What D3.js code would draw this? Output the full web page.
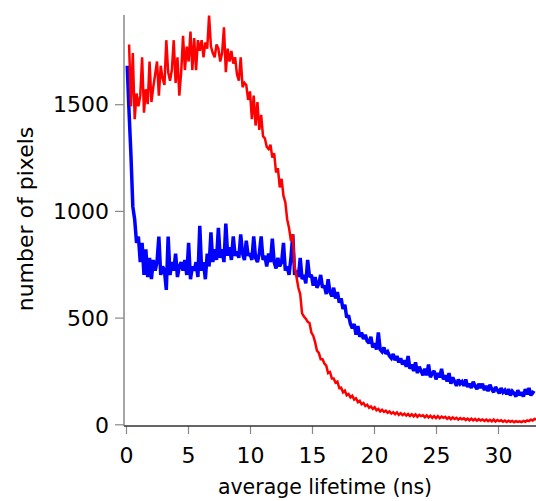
<!DOCTYPE html>
<html>
<head>
<meta charset="utf-8">
<script src="https://cdn.jsdelivr.net/npm/d3@7"></script>
<style>
  html, body { margin: 0; padding: 0; background: #fff; }
  svg { display: block; }
  text { font-family: "DejaVu Sans", sans-serif; }
</style>
</head>
<body>
<svg id="chart" width="536" height="501"></svg>
<script>
// ---- data ----
const binWidth = 0.15;           // ns per histogram bin
const redStart = 0.25;           // lifetime of first red bin (ns)
const blueStart = 0.10;          // lifetime of first blue bin (ns)

const redCounts = [
  1780, 1490, 1740, 1430, 1550, 1490, 1540, 1720, 1460, 1570,
  1500, 1700, 1510, 1580, 1640, 1700, 1540, 1680, 1620, 1590,
  1800, 1650, 1610, 1660, 1800, 1600, 1720, 1540, 1650, 1820,
  1660, 1770, 1700, 1840, 1660, 1810, 1660, 1800, 1750, 1800,
  1720, 1790, 1760, 1915, 1770, 1740, 1720, 1780, 1760, 1700,
  1740, 1860, 1650, 1760, 1700, 1750, 1690, 1720, 1640, 1610,
  1720, 1580, 1600, 1590, 1520, 1560, 1430, 1540, 1400, 1510,
  1380, 1450, 1350, 1340, 1300, 1290, 1310, 1250, 1270, 1180,
  1200, 1110, 1150, 1070, 1040, 960, 920, 860, 890, 740,
  690, 640, 610, 520, 505, 495, 480, 475, 430, 415,
  385, 345, 335, 305, 305, 285, 275, 240, 245, 215,
  215, 195, 200, 170, 172, 150, 158, 136, 142, 126,
  134, 116, 122, 104, 110, 94, 100, 86, 92, 78,
  84, 72, 80, 66, 72, 60, 68, 58, 64, 54,
  60, 50, 57, 47, 56, 44, 52, 43, 50, 41,
  48, 39, 47, 37, 46, 35, 44, 38, 42, 33,
  42, 32, 40, 30, 39, 29, 38, 28, 36, 30,
  35, 26, 33, 24, 32, 25, 30, 22, 29, 23,
  28, 20, 27, 19, 26, 18, 25, 17, 24, 18,
  23, 16, 22, 15, 21, 14, 22, 13, 20, 15,
  19, 12, 18, 11, 17, 12, 16, 10, 15, 11,
  14, 10, 16, 12, 18, 15, 22, 18, 25, 23
];

const blueCounts = [
  1680, 1460, 1260, 1020, 960, 850, 880, 760, 850, 700,
  820, 690, 780, 680, 770, 720, 760, 880, 700, 740,
  720, 630, 880, 700, 760, 720, 800, 690, 740, 760,
  720, 770, 700, 850, 680, 740, 720, 760, 690, 930,
  720, 760, 680, 800, 740, 900, 760, 820, 770, 920,
  780, 820, 760, 940, 790, 830, 770, 880, 790, 810,
  780, 890, 800, 770, 860, 790, 800, 770, 880, 780,
  760, 800, 880, 770, 790, 740, 800, 760, 870, 760,
  730, 780, 740, 760, 850, 720, 740, 700, 780, 890,
  700, 720, 690, 780, 680, 700, 660, 770, 690, 700,
  650, 690, 640, 660, 700, 640, 650, 610, 680, 620,
  600, 640, 590, 620, 570, 590, 540, 560, 500, 510,
  470, 450, 470, 420, 460, 410, 430, 400, 420, 390,
  380, 410, 360, 380, 350, 430, 350, 340, 360, 330,
  340, 320, 310, 330, 300, 320, 290, 310, 280, 300,
  270, 320, 260, 280, 250, 290, 240, 270, 250, 230,
  260, 230, 280, 220, 240, 250, 210, 240, 220, 260,
  210, 230, 200, 240, 190, 220, 200, 180, 210, 190,
  200, 180, 210, 175, 190, 170, 200, 180, 165, 190,
  170, 190, 160, 180, 155, 185, 165, 150, 175, 160,
  145, 170, 150, 160, 140, 165, 135, 155, 145, 130,
  160, 135, 150, 130, 165, 140, 170, 135, 150, 145
];

const xTicks = [0, 5, 10, 15, 20, 25, 30];
const yTicks = [0, 500, 1000, 1500];
const xTitle = "average lifetime (ns)";
const yTitle = "number of pixels";

// ---- layout ----
const svg = d3.select("#chart");
const axisX = 124, axisY = 426;
const x = d3.scaleLinear().domain([0, 33]).range([126, 535.2]);
const y = d3.scaleLinear().domain([0, 1918]).range([424.3, 15]);

svg.append("defs").append("clipPath").attr("id", "plotclip")
  .append("rect").attr("x", axisX + 1).attr("y", 0).attr("width", 536 - axisX).attr("height", axisY);

const toPts = (arr, start) => arr.map((v, i) => [start + i * binWidth, v]);
const line = d3.line().x(d => x(d[0])).y(d => y(d[1]));

const plot = svg.append("g").attr("clip-path", "url(#plotclip)");
plot.append("path").datum(toPts(blueCounts, blueStart))
  .attr("d", line).attr("fill", "none").attr("stroke", "#0000ff")
  .attr("stroke-width", 3.5).attr("stroke-linejoin", "miter").attr("stroke-miterlimit", 2);
plot.append("path").datum(toPts(redCounts, redStart))
  .attr("d", line).attr("fill", "none").attr("stroke", "#ff0000")
  .attr("stroke-width", 2.5).attr("stroke-linejoin", "miter").attr("stroke-miterlimit", 2);

// axes
const gx = svg.append("g").attr("transform", `translate(0,${axisY})`)
  .call(d3.axisBottom(x).tickValues(xTicks).tickSize(8).tickFormat(d3.format("d")));
gx.select(".domain").remove();
gx.selectAll(".tick line").attr("stroke", "#888").attr("stroke-width", 1.2);
gx.selectAll(".tick text").attr("y", 37).attr("dy", 0)
  .attr("font-size", 22).attr("fill", "#000").attr("font-family", "DejaVu Sans, sans-serif");

const gy = svg.append("g").attr("transform", `translate(${axisX},0)`)
  .call(d3.axisLeft(y).tickValues(yTicks).tickSize(9).tickFormat(d3.format("d")));
gy.select(".domain").remove();
gy.selectAll(".tick line").attr("stroke", "#888").attr("stroke-width", 1.2);
gy.selectAll(".tick text").attr("x", -15).attr("dy", "0.35em")
  .attr("font-size", 22).attr("fill", "#000").attr("font-family", "DejaVu Sans, sans-serif");

svg.append("line").attr("x1", axisX).attr("x2", axisX).attr("y1", 15).attr("y2", axisY)
  .attr("stroke", "#888").attr("stroke-width", 1.5);
svg.append("line").attr("x1", axisX).attr("x2", 536).attr("y1", axisY).attr("y2", axisY)
  .attr("stroke", "#333").attr("stroke-width", 1.5);

svg.append("text").attr("x", 325).attr("y", 494).attr("text-anchor", "middle")
  .attr("font-size", 20.5).text(xTitle);
svg.append("text").attr("transform", "translate(33,219) rotate(-90)")
  .attr("text-anchor", "middle").attr("font-size", 22).text(yTitle);
</script>
</body>
</html>
